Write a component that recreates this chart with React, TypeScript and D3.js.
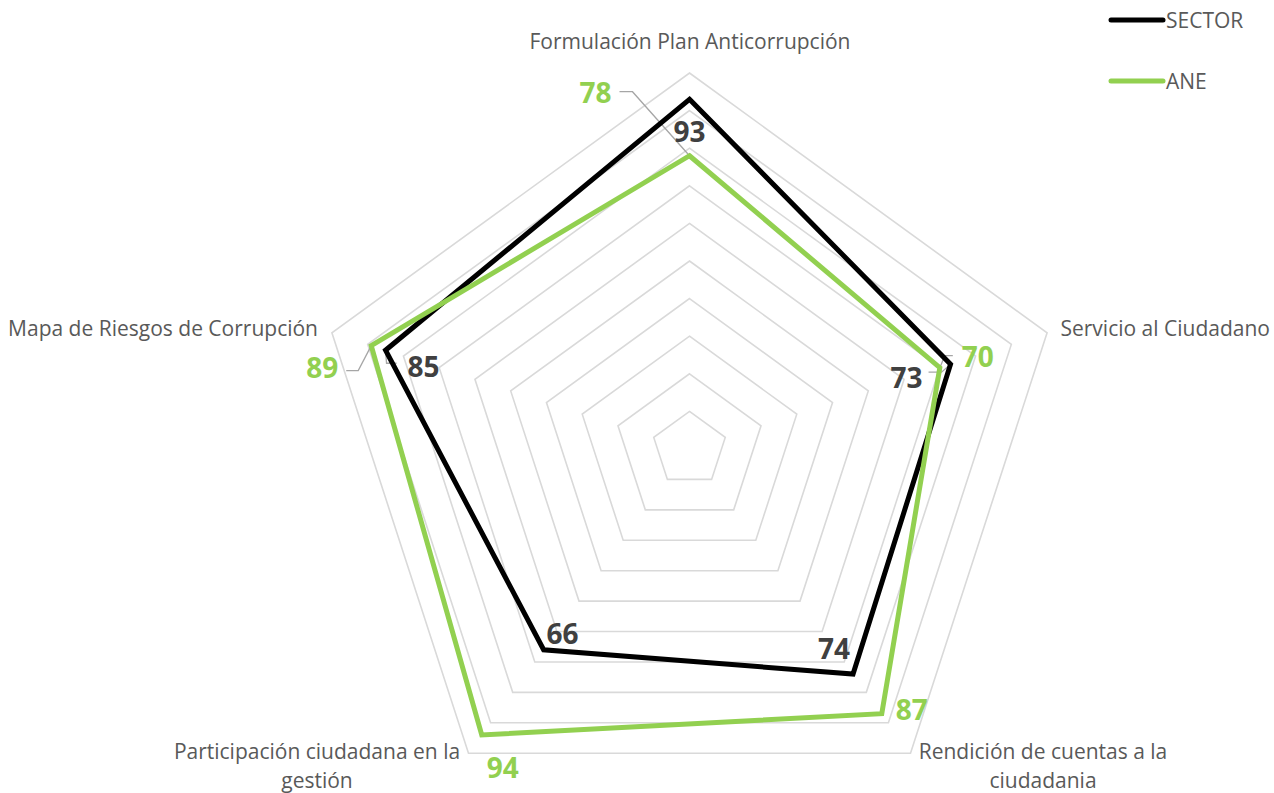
import React from 'react';
import * as d3 from 'd3';

// categories clockwise from the top
const categories: string[][] = [
  ['Formulación Plan Anticorrupción'],
  ['Servicio al Ciudadano'],
  ['Rendición de cuentas a la', 'ciudadania'],
  ['Participación ciudadana en la', 'gestión'],
  ['Mapa de Riesgos de Corrupción'],
];
const sectorValues = [93, 73, 74, 66, 85];
const aneValues = [78, 70, 87, 94, 89];
const gridLevels = [10, 20, 30, 40, 50, 60, 70, 80, 90, 100];

const W = 1274;
const H = 793;
const cx = 689.5;
const cy = 449;
const R = 376;

const GRID = '#d9d9d9';
const GREEN = '#92d050';
const DARK = '#404040';
const TEXT = '#595959';
const FONT = '"Open Sans", "Liberation Sans", sans-serif';

const r = d3.scaleLinear().domain([0, 100]).range([0, R]);
const angle = (i: number) => (i * 2 * Math.PI) / categories.length;
const pt = (i: number, v: number): [number, number] => [
  cx + r(v) * Math.sin(angle(i)),
  cy - r(v) * Math.cos(angle(i)),
];

// label placement relative to the data point
const sectorLabelOff: [number, number][] = [[0, 32], [-44, 13], [-19, -26], [19, -17], [38, 16]];
const aneLabelOff: [number, number][] = [[-94, -64], [38, -12], [30, -5], [21, 32], [-49, 21]];

// category label anchors
const catPos: { x: number; y: number; anchor: string }[] = [
  { x: 690, y: 41, anchor: 'middle' },
  { x: 1270, y: 328, anchor: 'end' },
  { x: 1043, y: 751, anchor: 'middle' },
  { x: 317, y: 751, anchor: 'middle' },
  { x: 318, y: 328, anchor: 'end' },
];

const line = d3.line<[number, number]>().curve(d3.curveLinearClosed);

const Series = ({ values, color }: { values: number[]; color: string }) => (
  <path
    d={line(values.map((v, i) => pt(i, v))) || ''}
    fill="none"
    stroke={color}
    strokeWidth={5}
    strokeLinejoin="miter"
  />
);

export default function App() {
  const sp = sectorValues.map((v, i) => pt(i, v));
  const ap = aneValues.map((v, i) => pt(i, v));

  // leader lines from label to point (label-side polyline)
  const leaders: [number, number][][] = [
    [[ap[0][0] - 70, ap[0][1] - 64], [ap[0][0] - 57, ap[0][1] - 64], ap[0]],
    [[ap[4][0] - 25, ap[4][1] + 25], [ap[4][0] - 13, ap[4][1] + 25], ap[4]],
    [[sp[4][0] + 11, sp[4][1] + 13], [sp[4][0] + 1, sp[4][1] + 13], sp[4]],
    [[ap[1][0] + 13, ap[1][1] - 12], [ap[1][0] + 5, ap[1][1] - 12], ap[1]],
    [[sp[1][0] - 22, sp[1][1] + 8], [sp[1][0] - 9, sp[1][1] + 8], sp[1]],
  ];
  const leaderLine = d3.line<[number, number]>();

  return (
    <svg width={W} height={H} style={{ position: 'absolute', left: 0, top: 0, background: '#fff' }}>
      {gridLevels.map(lv => (
        <path
          key={lv}
          d={line(categories.map((_, i) => pt(i, lv))) || ''}
          fill="none"
          stroke={GRID}
          strokeWidth={1.6}
        />
      ))}

      {leaders.map((l, i) => (
        <path key={i} d={leaderLine(l) || ''} fill="none" stroke="#a6a6a6" strokeWidth={1.3} />
      ))}

      <Series values={sectorValues} color="#000" />
      <Series values={aneValues} color={GREEN} />

      {sectorValues.map((v, i) => (
        <text
          key={'s' + i}
          x={sp[i][0] + sectorLabelOff[i][0]}
          y={sp[i][1] + sectorLabelOff[i][1]}
          textAnchor="middle"
          dominantBaseline="central"
          fontFamily={FONT}
          fontWeight="bold"
          fontSize={28}
          fill={DARK}
        >
          {v}
        </text>
      ))}
      {aneValues.map((v, i) => (
        <text
          key={'a' + i}
          x={ap[i][0] + aneLabelOff[i][0]}
          y={ap[i][1] + aneLabelOff[i][1]}
          textAnchor="middle"
          dominantBaseline="central"
          fontFamily={FONT}
          fontWeight="bold"
          fontSize={28}
          fill={GREEN}
        >
          {v}
        </text>
      ))}

      {categories.map((lines, i) => (
        <text
          key={'c' + i}
          x={catPos[i].x}
          y={catPos[i].y}
          textAnchor={catPos[i].anchor}
          dominantBaseline="central"
          fontFamily={FONT}
          fontSize={21}
          fill={TEXT}
        >
          {lines.map((t, j) => (
            <tspan key={j} x={catPos[i].x} dy={j === 0 ? 0 : 29}>
              {t}
            </tspan>
          ))}
        </text>
      ))}

      {[
        { name: 'SECTOR', color: '#000', y: 20 },
        { name: 'ANE', color: GREEN, y: 81 },
      ].map(d => (
        <g key={d.name}>
          <line x1={1111} x2={1163} y1={d.y} y2={d.y} stroke={d.color} strokeWidth={5} strokeLinecap="round" />
          <text x={1166} y={d.y} dominantBaseline="central" fontFamily={FONT} fontSize={21} fill={TEXT}>
            {d.name}
          </text>
        </g>
      ))}
    </svg>
  );
}
